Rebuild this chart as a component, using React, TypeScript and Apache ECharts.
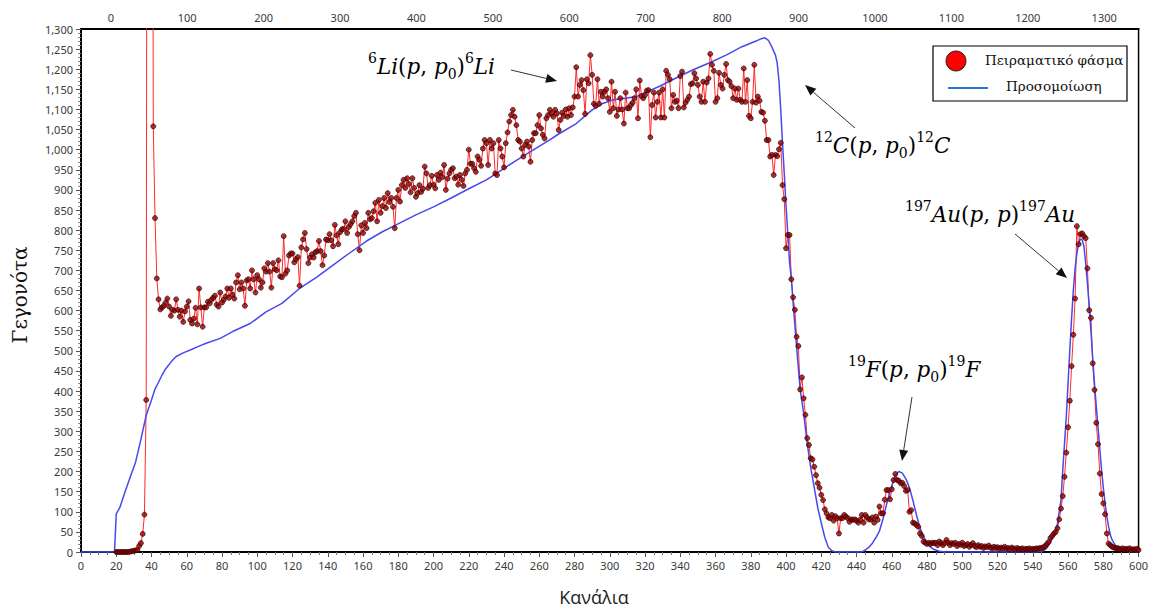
import React, { useEffect, useRef } from "react";
import * as echarts from "echarts";

// ---------- DATA ----------
const expStartChannel = 20;

// channels 20-43
const expCountsA = [
  0, 0, 0, 0, 0, 0, 0, 0, 1, 2, 3, 4, 5, 15, 22, 45, 93, 378, 4000, 4000, 4000, 1058, 830, 680,
];
// channels 44-124
const expCountsB = [
  628, 603, 608, 612, 620, 630, 610, 587, 602, 600,
  628, 602, 585, 600, 572, 598, 610, 623, 577, 568,
  580, 607, 566, 655, 608, 560, 608, 608, 622, 618,
  627, 632, 637, 615, 610, 645, 620, 627, 635, 655,
  632, 655, 640, 630, 670, 688, 653, 670, 655, 612,
  675, 678, 655, 700, 678, 645, 688, 678, 657, 670,
  705, 697, 718, 697, 657, 718, 703, 700, 725, 685,
  683, 785, 692, 700, 737, 742, 742, 720, 728, 733,
  662,
];
// channels 125-173
const expCountsC = [
  757, 777, 793, 753, 718, 732, 740, 732, 745, 748,
  773, 748, 713, 737, 777, 775, 790, 775, 760, 813,
  787, 765, 795, 802, 803, 822, 793, 808, 815, 822,
  835, 843, 790, 750, 812, 793, 818, 805, 843, 827,
  830, 847, 868, 822, 875, 843, 860, 880, 855,
];
// channels 174-270
const expCountsD = [
  892, 870, 880, 858, 805, 880, 900, 871, 912, 925,
  905, 929, 915, 894, 929, 905, 883, 892, 912, 895,
  903, 958, 941, 905, 912, 935, 913, 904, 937, 925,
  943, 932, 962, 900, 928, 941, 950, 954, 929, 933,
  913, 937, 925, 910, 941, 950, 1000, 965, 965, 954,
  945, 983, 975, 960, 1003, 1024, 1016, 962, 1024, 1003,
  1016, 941, 937, 1024, 1003, 983, 956, 1016, 1043, 1070,
  1086, 1099, 1082, 1061, 1024, 1020, 1003, 983, 1012, 1020,
  1008, 970, 1024, 1041, 1041, 1061, 1086, 1053, 1037, 1028,
  1078, 1086, 1099, 1090, 1082, 1099, 1090,
];
// channels 271-398
const expCountsE = [
  1049, 1074, 1092, 1084, 1100, 1082, 1103, 1086, 1105, 1132,
  1205, 1132, 1161, 1173, 1148, 1089, 1175, 1165, 1235, 1186,
  1114, 1109, 1175, 1114, 1144, 1132, 1144, 1150, 1128, 1094,
  1169, 1103, 1144, 1084, 1100, 1128, 1100, 1065, 1142, 1103,
  1103, 1111, 1117, 1128, 1150, 1078, 1172, 1133, 1128, 1136,
  1147, 1148, 1031, 1111, 1142, 1080, 1119, 1142, 1080, 1150,
  1080, 1196, 1186, 1175, 1103, 1136, 1119, 1122, 1103, 1183,
  1194, 1105, 1117, 1124, 1132, 1163, 1165, 1190, 1177, 1161,
  1132, 1119, 1169, 1119, 1167, 1177, 1238, 1211, 1196, 1119,
  1128, 1191, 1161, 1152, 1186, 1213, 1173, 1169, 1158, 1128,
  1152, 1124, 1152, 1124, 1119, 1202, 1119, 1173, 1084, 1078,
  1119, 1211, 1117, 1132, 1122, 1094, 1092, 1072, 1024, 1024,
  983, 987, 937, 987, 984, 1001, 1017, 912,
];
// channels 399-600
const expCountsF = [
  877, 755, 788, 788, 678, 633, 602, 535, 512, 404,
  434, 382, 341, 283, 266, 233, 230, 212, 191, 171,
  160, 142, 129, 106, 96, 86, 84, 92, 78, 89,
  84, 46, 84, 84, 92, 88, 84, 75, 81, 80,
  81, 78, 73, 80, 92, 73, 92, 86, 81, 81,
  86, 73, 88, 80, 113, 96, 96, 130, 154, 154,
  131, 156, 179, 194, 179, 177, 171, 172, 164, 152,
  154, 100, 104, 73, 71, 67, 63, 46, 40, 26,
  23, 20, 23, 20, 23, 22, 23, 17, 26, 22,
  17, 22, 30, 23, 17, 22, 20, 23, 15, 20,
  18, 23, 15, 17, 20, 13, 18, 22, 15, 12,
  17, 13, 15, 10, 14, 12, 16, 11, 9, 13,
  10, 12, 8, 11, 9, 13, 8, 10, 7, 11,
  9, 6, 10, 8, 7, 9, 6, 8, 7, 9,
  6, 8, 7, 9, 8, 10, 9, 12, 15, 20,
  25, 35, 40, 46, 50, 59, 81, 108, 139, 187,
  247, 310, 376, 462, 540, 630, 810, 765, 790, 792,
  785, 780, 705, 601, 582, 469, 403, 321, 268, 195,
  144, 121, 94, 46, 21, 17, 13, 11, 9, 10,
  8, 7, 9, 6, 8, 7, 9, 5, 7, 6,
  8, 5,
];

const simChannels = [
  0, 19, 20, 22, 25, 28, 31, 34, 37, 40, 42, 44, 46, 48, 51, 54, 58, 62, 66, 71,
  79, 86, 96, 105, 114, 124, 134, 143, 152, 162, 171, 181, 190, 200, 210, 220, 230, 237, 245, 255,
  265, 271, 281, 290, 296, 302, 309, 315, 320, 328, 337, 347, 356, 366, 375, 383, 386, 388, 390, 392,
  394, 395, 396, 397, 398, 399, 400, 401, 402, 403, 404, 406, 408, 410, 412, 414, 416, 418, 420, 422,
  424, 426, 428, 443, 445, 447, 449, 451, 453, 455, 457, 459, 461, 463, 464, 466, 468, 470, 472, 474,
  476, 478, 480, 482, 484, 487, 490, 543, 546, 548, 550, 552, 554, 556, 557, 558, 559, 560, 561, 562,
  563, 564, 565, 566, 567, 568, 569, 570, 571, 572, 573, 574, 575, 576, 577, 578, 579, 580, 581, 582,
  583, 584, 585, 587, 589, 591, 594, 600,
];
const simCounts = [
  0, 0, 95, 110, 150, 187, 224, 280, 340, 378, 405, 422, 440, 455, 472, 486, 495, 502, 510, 519,
  531, 548, 568, 597, 618, 655, 684, 713, 742, 773, 796, 818, 838, 858, 880, 903, 925, 945, 968, 995,
  1022, 1039, 1065, 1099, 1115, 1124, 1128, 1132, 1142, 1157, 1177, 1198, 1215, 1235, 1256, 1270, 1276, 1278, 1272, 1255,
  1235, 1215, 1170, 1100, 1016, 940, 860, 790, 720, 680, 620, 510, 405, 345, 270, 210, 160, 110, 72, 36,
  12, 3, 0, 0, 5, 12, 22, 36, 52, 82, 118, 150, 179, 196, 200, 196, 182, 160, 128, 92,
  60, 38, 22, 12, 6, 2, 0, 0, 3, 10, 25, 42, 70, 130, 204, 270, 336, 420, 502, 580,
  651, 705, 742, 768, 778, 776, 760, 718, 668, 610, 548, 480, 419, 362, 311, 256, 204, 160, 121, 88,
  63, 42, 30, 15, 8, 4, 1, 0,
];

const energyTickLabels = [0, 100, 200, 300, 400, 500, 600, 700, 800, 900, 1000, 1100, 1200, 1300];
const legendLabels = ["Πειραματικό φάσμα", "Προσομοίωση"];
const xAxisTitle = "Κανάλια";
const yAxisTitle = "Γεγονότα";

// ---------- HELPERS ----------
function arrow(x1: number, y1: number, x2: number, y2: number) {
  const dx = x2 - x1;
  const dy = y2 - y1;
  const L = Math.hypot(dx, dy);
  const ux = dx / L;
  const uy = dy / L;
  const hl = 11;
  const hw = 4.5;
  const bx = x2 - ux * hl;
  const by = y2 - uy * hl;
  return [
    { type: "line", shape: { x1, y1, x2: bx, y2: by }, style: { stroke: "#333", lineWidth: 1 }, z: 100 },
    {
      type: "polygon",
      shape: { points: [[x2, y2], [bx - uy * hw, by + ux * hw], [bx + uy * hw, by - ux * hw]] },
      style: { fill: "#111" },
      z: 100,
    },
  ];
}

const mathFont = "DejaVu Serif";
const mathRich: any = {
  i: { fontFamily: mathFont, fontStyle: "italic", fontSize: 21.5, color: "#111", lineHeight: 30, verticalAlign: "middle" },
  n: { fontFamily: mathFont, fontSize: 21.5, color: "#111", lineHeight: 30, verticalAlign: "middle" },
  sup: { fontFamily: mathFont, fontSize: 14, color: "#111", lineHeight: 14, verticalAlign: "top" },
  sub: { fontFamily: mathFont, fontSize: 14, color: "#111", lineHeight: 14, verticalAlign: "bottom" },
};

function mathText(x: number, y: number, text: string) {
  return {
    type: "text",
    x,
    y,
    z: 100,
    style: { text, rich: mathRich, align: "left", verticalAlign: "middle" },
  };
}

export default function App() {
  const ref = useRef<HTMLDivElement>(null);

  useEffect(() => {
    if (!ref.current) return;
    const chart = echarts.init(ref.current, undefined, { renderer: "svg" });

    const expCounts = [...expCountsA, ...expCountsB, ...expCountsC, ...expCountsD, ...expCountsE, ...expCountsF];
    const expData = expCounts.map((v, i) => [expStartChannel + i, v]);
    const simData = simChannels.map((c, i) => [c, simCounts[i]]);

    const labelStyle = { color: "#3a3a3a", fontSize: 11, fontFamily: "Noto Sans" };

    const option: any = {
      animation: false,
      backgroundColor: "#ffffff",
      grid: { left: 81, right: 10, top: 29, bottom: 56, show: true, borderColor: "#000", borderWidth: 1.5, backgroundColor: "transparent" },
      xAxis: [
        {
          type: "value",
          position: "bottom",
          min: 0,
          max: 600,
          interval: 20,
          axisLine: { show: true, lineStyle: { color: "#000", width: 2 } },
          axisTick: { show: true, length: 5, lineStyle: { color: "#555" } },
          minorTick: { show: true, splitNumber: 4, length: 3, lineStyle: { color: "#777" } },
          axisLabel: { ...labelStyle, margin: 8 },
          splitLine: { show: false },
        },
        {
          type: "value",
          position: "top",
          min: -39,
          max: 1345,
          axisLine: { show: true, lineStyle: { color: "#000", width: 2 } },
          axisTick: { show: false },
          axisLabel: { ...labelStyle, margin: 6, customValues: energyTickLabels, formatter: (v: number) => String(v) },
          splitLine: { show: false },
        },
      ],
      yAxis: {
        type: "value",
        min: 0,
        max: 1300,
        interval: 50,
        axisLine: { show: true, lineStyle: { color: "#000", width: 2 } },
        axisTick: { show: true, length: 5, lineStyle: { color: "#555" } },
        minorTick: { show: true, splitNumber: 5, length: 3, lineStyle: { color: "#888" } },
        axisLabel: { ...labelStyle, margin: 8, formatter: (v: number) => v.toLocaleString("en-US") },
        splitLine: { show: false },
      },
      series: [
        {
          name: legendLabels[0],
          type: "line",
          data: expData,
          symbol: "none",
          lineStyle: { color: "#ff2a2a", width: 1 },
          z: 2,
        },
        {
          name: legendLabels[1],
          type: "line",
          data: simData,
          symbol: "none",
          lineStyle: { color: "#4848ee", width: 1.5 },
          z: 3,
        },
        {
          name: legendLabels[0] + " σημεία",
          type: "scatter",
          data: expData,
          symbolSize: 5,
          itemStyle: { color: "#9b0000", borderColor: "#1a0000", borderWidth: 0.8 },
          z: 4,
        },
      ],
      graphic: [
        // axis titles
        {
          type: "text",
          x: 594,
          y: 597,
          style: { text: xAxisTitle, fontFamily: "Open Sans", fontSize: 18, fill: "#222", align: "center", verticalAlign: "middle" },
        },
        {
          type: "text",
          x: 20,
          y: 295,
          rotation: Math.PI / 2,
          style: { text: yAxisTitle, fontFamily: "DejaVu Serif", fontSize: 20, fill: "#111", align: "center", verticalAlign: "middle" },
        },
        // legend
        {
          type: "rect",
          shape: { x: 933, y: 46, width: 194, height: 55 },
          style: { fill: "#fff", stroke: "#000", lineWidth: 1.2 },
          z: 90,
        },
        { type: "circle", shape: { cx: 956, cy: 61, r: 10 }, style: { fill: "#ff0000", stroke: "#222", lineWidth: 1 }, z: 91 },
        {
          type: "text",
          x: 985,
          y: 60,
          z: 91,
          style: { text: legendLabels[0], fontFamily: "DejaVu Serif", fontSize: 13.5, fill: "#111", align: "left", verticalAlign: "middle" },
        },
        { type: "line", shape: { x1: 948, y1: 88, x2: 988, y2: 88 }, style: { stroke: "#2878d0", lineWidth: 2 }, z: 91 },
        {
          type: "text",
          x: 1006,
          y: 86,
          z: 91,
          style: { text: legendLabels[1], fontFamily: "DejaVu Serif", fontSize: 13.5, fill: "#111", align: "left", verticalAlign: "middle" },
        },
        // annotations
        mathText(368, 66, "{sup|6}{i|Li}{n|(}{i|p}{n|, }{i|p}{sub|0}{n|)}{sup|6}{i|Li}"),
        ...arrow(511, 70, 557, 81),
        mathText(815, 145, "{sup|12}{i|C}{n|(}{i|p}{n|, }{i|p}{sub|0}{n|)}{sup|12}{i|C}"),
        ...arrow(855, 128, 805, 85),
        mathText(905, 214, "{sup|197}{i|Au}{n|(}{i|p}{n|, }{i|p}{n|)}{sup|197}{i|Au}"),
        ...arrow(1015, 234, 1067, 278),
        mathText(848, 369, "{sup|19}{i|F}{n|(}{i|p}{n|, }{i|p}{sub|0}{n|)}{sup|19}{i|F}"),
        ...arrow(912, 397, 902, 461),
      ],
    };

    chart.setOption(option);
    return () => chart.dispose();
  }, []);

  return (
    <div
      ref={ref}
      style={{ position: "absolute", left: 0, top: 0, width: 1151, height: 608, background: "#fff" }}
    />
  );
}
